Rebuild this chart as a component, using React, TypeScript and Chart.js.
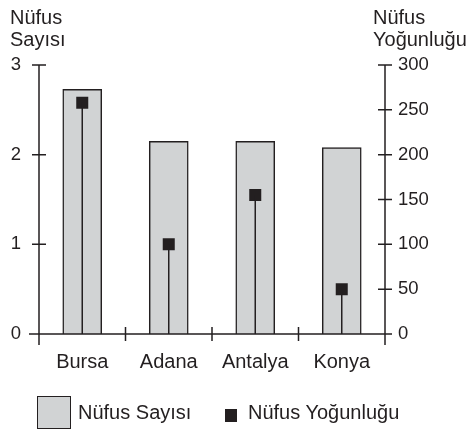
import React, { useEffect, useRef } from "react";
import { Chart, registerables } from "chart.js";

Chart.register(...registerables);

const categories = ["Bursa", "Adana", "Antalya", "Konya"];
const populationValues = [2.73, 2.15, 2.15, 2.08];
const densityValues = [258, 100, 155, 50];
const leftTicks = [0, 1, 2, 3];
const rightTicks = [0, 50, 100, 150, 200, 250, 300];

const INK = "#231f20";
const BAR_FILL = "#d1d3d4";
const FONT = '"Liberation Sans", Arial, Helvetica, sans-serif';

const axesPlugin = {
  id: "customAxes",
  afterDatasetsDraw(chart: any) {
    const { ctx, chartArea, scales } = chart;
    const { left, right, top, bottom } = chartArea;
    ctx.save();
    ctx.strokeStyle = INK;
    ctx.lineWidth = 1.5;
    const meta = chart.getDatasetMeta(1);
    const y1 = scales.y1;
    const zero = y1.getPixelForValue(0);
    ctx.beginPath();
    meta.data.forEach((pt: any) => {
      ctx.moveTo(pt.x, pt.y);
      ctx.lineTo(pt.x, zero);
    });
    ctx.stroke();
    ctx.beginPath();
    ctx.moveTo(left, top);
    ctx.lineTo(left, bottom + 11);
    ctx.moveTo(right, top);
    ctx.lineTo(right, bottom + 11);
    ctx.moveTo(left - 10, bottom);
    ctx.lineTo(right + 7, bottom);
    leftTicks.forEach((v) => {
      const y = scales.y.getPixelForValue(v);
      ctx.moveTo(left - 7, y);
      ctx.lineTo(left + 7, y);
    });
    rightTicks.forEach((v) => {
      const y = y1.getPixelForValue(v);
      ctx.moveTo(right - 7, y);
      ctx.lineTo(right + 7, y);
    });
    const n = categories.length;
    for (let i = 1; i < n; i++) {
      const x = left + (i * (right - left)) / n;
      ctx.moveTo(x, bottom - 7);
      ctx.lineTo(x, bottom + 7);
    }
    ctx.stroke();
    ctx.restore();
  },
};

export default function App() {
  const ref = useRef<HTMLCanvasElement | null>(null);
  useEffect(() => {
    if (!ref.current) return;
    const chart = new Chart(ref.current, {
      data: {
        labels: categories,
        datasets: [
          {
            type: "bar",
            label: "Nüfus Sayısı",
            data: populationValues,
            yAxisID: "y",
            backgroundColor: BAR_FILL,
            borderColor: INK,
            borderWidth: 1.5,
            barThickness: 39,
            order: 2,
          },
          {
            type: "line",
            label: "Nüfus Yoğunluğu",
            data: densityValues,
            yAxisID: "y1",
            showLine: false,
            pointStyle: "rect",
            pointRadius: 8.5,
            pointHoverRadius: 8.5,
            pointBackgroundColor: INK,
            pointBorderWidth: 0,
            order: 1,
          },
        ] as any,
      },
      options: {
        responsive: false,
        animation: false,
        devicePixelRatio: 1,
        layout: { padding: { top: 65, left: 0, right: 0, bottom: 0 } },
        plugins: { legend: { display: false }, tooltip: { enabled: false }, title: { display: false } },
        scales: {
          x: {
            grid: { display: false, drawTicks: false, tickLength: 0 },
            border: { display: false },
            ticks: { color: INK, font: { family: FONT, size: 20 }, padding: 16 },
            afterFit: (s: any) => { s.height = 98; },
          },
          y: {
            position: "left",
            min: 0,
            max: 3,
            grid: { display: false, drawTicks: false, tickLength: 0 },
            border: { display: false },
            ticks: { stepSize: 1, color: INK, font: { family: FONT, size: 18.5 }, padding: 18 },
            afterFit: (s: any) => { s.width = 39; },
          },
          y1: {
            position: "right",
            min: 0,
            max: 300,
            grid: { display: false, drawTicks: false, tickLength: 0 },
            border: { display: false },
            ticks: { stepSize: 50, color: INK, font: { family: FONT, size: 18.5 }, padding: 13 },
            afterFit: (s: any) => { s.width = 81; },
          },
        },
      } as any,
      plugins: [axesPlugin],
    });
    return () => chart.destroy();
  }, []);

  const textStyle: React.CSSProperties = { position: "absolute", fontSize: 20, lineHeight: "22px", whiteSpace: "nowrap" };

  return (
    <div style={{ position: "absolute", left: 0, top: 0, width: 466, height: 432, fontFamily: FONT, color: INK, background: "#fff", overflow: "hidden" }}>
      <canvas ref={ref} width={466} height={432} style={{ position: "absolute", left: 0, top: 0, width: 466, height: 432 }} />
      <div style={{ ...textStyle, left: 10, top: 6 }}>Nüfus<br />Sayısı</div>
      <div style={{ ...textStyle, left: 373, top: 6 }}>Nüfus<br />Yoğunluğu</div>
      <div style={{ position: "absolute", left: 37, top: 396, width: 32, height: 31, background: BAR_FILL, border: `1.5px solid ${INK}` }} />
      <div style={{ ...textStyle, left: 78, top: 401 }}>Nüfus Sayısı</div>
      <div style={{ position: "absolute", left: 225, top: 409, width: 12, height: 13, background: INK }} />
      <div style={{ ...textStyle, left: 248, top: 401 }}>Nüfus Yoğunluğu</div>
    </div>
  );
}
